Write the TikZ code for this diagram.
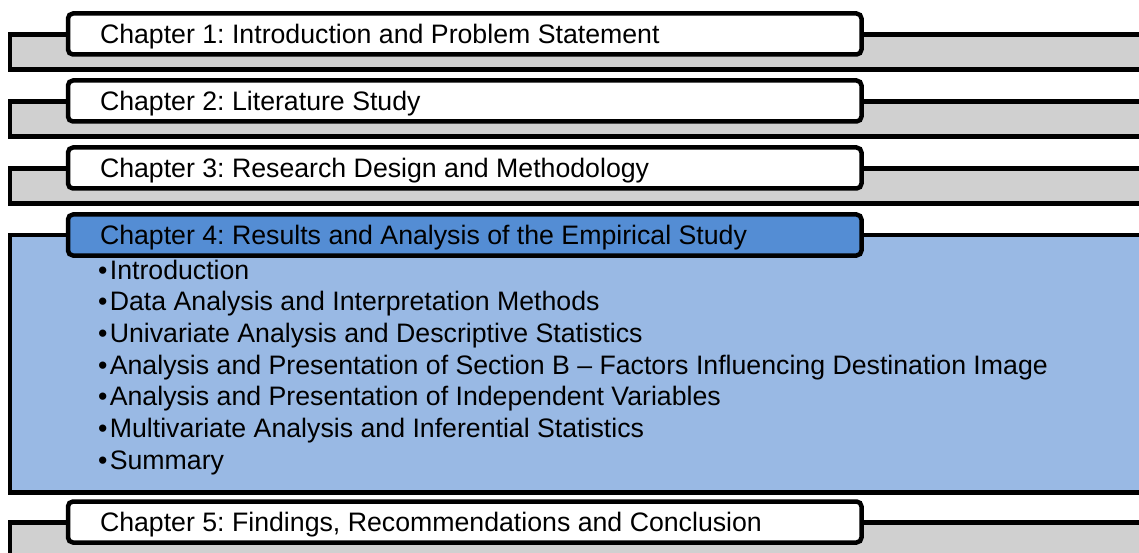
\documentclass[tikz,border=0pt]{standalone}
\usepackage{fontspec}
\setmainfont{Liberation Sans}
\frenchspacing
\definecolor{backgray}{RGB}{208,208,208}
\definecolor{paleblue}{RGB}{153,185,228}
\definecolor{headblue}{RGB}{84,141,212}
\newcommand{\tabtext}[1]{\makebox[729.5pt][l]{#1}}
\begin{document}
\begin{tikzpicture}[x=1pt,y=-1pt,
  every node/.style={font=\fontsize{26.7}{31.7}\selectfont, outer sep=0pt},
  backbox/.style={draw=black, line width=4.5pt, fill=backgray, rectangle,
    anchor=north west, inner sep=0pt, minimum width=1140, minimum height=35},
  openbox/.style={backbox, fill=paleblue, minimum height=257.5},
  tab/.style={draw=black, line width=4.5pt, fill=white, rounded corners=5pt,
    anchor=north west, inner xsep=32pt, inner ysep=0pt,
    minimum height=41, text height=19pt, text depth=0pt},
  opentab/.style={tab, fill=headblue},
  item/.style={anchor=base west, inner sep=0pt}]
\useasboundingbox (0,0) rectangle (1139,553);
\clip (0,0) rectangle (1139,553);

% chapter 1
\node[backbox] (back1) at (10,34.7) {};
\node[tab] (tab1) at (68,13.5) {\tabtext{Chapter 1: Introduction and Problem Statement}};
% chapter 2
\node[backbox] (back2) at (10,101.7) {};
\node[tab] (tab2) at (68,80.5) {\tabtext{Chapter 2: Literature Study}};
% chapter 3
\node[backbox] (back3) at (10,168.7) {};
\node[tab] (tab3) at (68,147.5) {\tabtext{Chapter 3: Research Design and Methodology}};
% chapter 4, opened with its section list
\node[openbox] (back4) at (10,235) {};
\node[opentab] (tab4) at (68,214.5) {\tabtext{Chapter 4: Results and Analysis of the Empirical Study}};
\node[item] (s1) at (98,279) {•\kern2.5pt Introduction};
\node[item] (s2) at (98,310.7) {•\kern2.5pt Data Analysis and Interpretation Methods};
\node[item] (s3) at (98,342.4) {•\kern2.5pt Univariate Analysis and Descriptive Statistics};
\node[item] (s4) at (98,374.1) {•\kern2.5pt Analysis and Presentation of Section B – Factors Influencing Destination Image};
\node[item] (s5) at (98,405.8) {•\kern2.5pt Analysis and Presentation of Independent Variables};
\node[item] (s6) at (98,437.5) {•\kern2.5pt Multivariate Analysis and Inferential Statistics};
\node[item] (s7) at (98,469.2) {•\kern2.5pt Summary};
% chapter 5
\node[backbox] (back5) at (10,522.5) {};
\node[tab] (tab5) at (68,501.5) {\tabtext{Chapter 5: Findings, Recommendations and Conclusion}};
\end{tikzpicture}
\end{document}
